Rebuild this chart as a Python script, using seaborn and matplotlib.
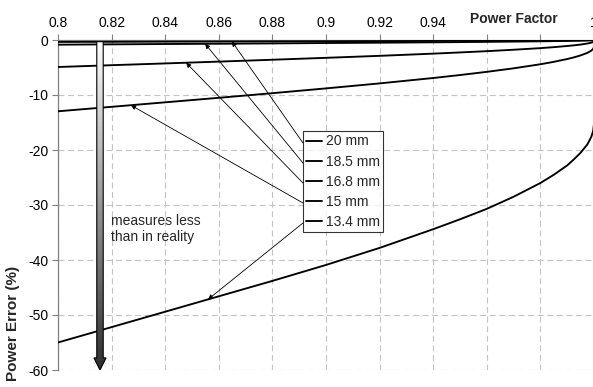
import numpy as np
import pandas as pd
import matplotlib
matplotlib.use("Agg")
import matplotlib.pyplot as plt
import seaborn as sns
from matplotlib.patches import FancyArrow
from matplotlib.colors import LinearSegmentedColormap

# Power error (%) versus power factor for several conductor sizes
power_factor = [0.80, 0.82, 0.84, 0.86, 0.88, 0.90, 0.92, 0.94, 0.95, 0.96,
                0.97, 0.98, 0.985, 0.99, 0.9925, 0.995, 0.9975, 0.999, 0.9997, 1.0]
err_20mm = [-0.35, -0.33, -0.30, -0.28, -0.25, -0.23, -0.20, -0.17, -0.15, -0.14,
            -0.12, -0.10, -0.08, -0.07, -0.06, -0.05, -0.03, -0.02, -0.01, 0.0]
err_18_5mm = [-0.85, -0.79, -0.73, -0.68, -0.62, -0.55, -0.49, -0.42, -0.38, -0.34,
              -0.29, -0.24, -0.20, -0.17, -0.15, -0.12, -0.09, -0.06, -0.03, -0.01]
err_16_8mm = [-4.91, -4.58, -4.26, -3.93, -3.59, -3.24, -2.88, -2.48, -2.26, -2.03,
              -1.77, -1.48, -1.30, -1.09, -0.97, -0.83, -0.64, -0.48, -0.35, -0.20]
err_15mm = [-12.96, -12.15, -11.33, -10.51, -9.67, -8.80, -7.89, -6.91, -6.37, -5.79,
            -5.15, -4.41, -3.97, -3.46, -3.16, -2.80, -2.34, -1.93, -1.61, -1.23]
err_13_4mm = [-55.0, -52.2, -49.4, -46.6, -43.8, -40.9, -37.8, -34.4, -32.6, -30.7,
              -28.5, -26.0, -24.5, -22.8, -21.7, -20.5, -19.0, -17.6, -16.5, -15.2]

sizes = ["20 mm", "18.5 mm", "16.8 mm", "15 mm", "13.4 mm"]
series = [err_20mm, err_18_5mm, err_16_8mm, err_15mm, err_13_4mm]

# where each legend pointer lands on its curve (power factor)
pointer_pf = [0.8649, 0.8549, 0.8478, 0.8272, 0.8560]

x_ticks = [0.80, 0.82, 0.84, 0.86, 0.88, 0.90, 0.92, 0.94, 0.96, 0.98, 1.0]
x_tick_labels = ["0.8", "0.82", "0.84", "0.86", "0.88", "0.9", "0.92", "0.94", "", "", "1"]
y_ticks = [0, -10, -20, -30, -40, -50, -60]
y_tick_labels = ["0", "-10", "-20", "-30", "-40", "-50", "-60"]

df = pd.DataFrame({
    "Power Factor": np.tile(power_factor, len(sizes)),
    "Power Error (%)": np.concatenate(series),
    "Size": np.repeat(sizes, len(power_factor)),
})

sns.set_theme(style="white")
plt.rcParams["font.family"] = ["Liberation Sans", "DejaVu Sans"]
plt.rcParams["lines.scale_dashes"] = False

W, H = 593, 387
fig = plt.figure(figsize=(W / 100, H / 100), dpi=100)
ax = fig.add_axes([58 / W, 1 - 370 / H, 536 / W, 330 / H])

sns.lineplot(data=df, x="Power Factor", y="Power Error (%)", hue="Size",
             hue_order=sizes, palette=["black"] * len(sizes), linewidth=1.35,
             legend=False, ax=ax, zorder=3)

ax.set_xlim(0.8, 1.0)
ax.set_ylim(-60, 0)
ax.xaxis.tick_top()
ax.set_xticks(x_ticks)
ax.set_xticklabels(x_tick_labels)
ax.set_yticks(y_ticks)
ax.set_yticklabels(y_tick_labels)
ax.set_xlabel("")
ax.set_ylabel("")
ax.tick_params(axis="both", direction="out", length=4, width=0.8, color="#808080",
               labelsize=10, labelcolor="black", pad=3)
ax.tick_params(axis="x", top=True, bottom=False)
ax.tick_params(axis="y", left=True)

for side in ["right", "bottom"]:
    ax.spines[side].set_visible(False)
for side in ["left", "top"]:
    ax.spines[side].set_color("#808080")
    ax.spines[side].set_linewidth(0.9)

ax.grid(True, color="#c4c4c4", linewidth=0.8, linestyle=(0, (4.3, 2.6)))
ax.set_axisbelow(True)

# axis titles
fig.text(514 / W, 1 - 19 / H, "Power Factor", ha="center", va="center",
         fontsize=10, fontweight="bold")
fig.text(13 / W, 1 - 323 / H, "Power Error (%)", ha="center", va="center",
         rotation=90, fontsize=11, fontweight="bold")

# gradient arrow: measured values fall below the real ones
x_arrow = 0.81567
arrow = FancyArrow(x_arrow, -0.3, 0, -59.7, width=0.0024, head_width=0.0045,
                   head_length=2.2, length_includes_head=True,
                   facecolor="none", edgecolor="black", linewidth=0.8, zorder=6)
ax.add_patch(arrow)
grad_cmap = LinearSegmentedColormap.from_list("fade", ["#ffffff", "#2e2e2e"])
grad = np.linspace(0, 1, 256).reshape(-1, 1)
img = ax.imshow(grad, extent=[x_arrow - 0.003, x_arrow + 0.003, -60, 0],
                aspect="auto", cmap=grad_cmap, origin="upper", zorder=5,
                interpolation="bilinear")
img.set_clip_path(arrow)
ax.set_xlim(0.8, 1.0)
ax.set_ylim(-60, 0)

ax.text(0.8198, -34.3, "measures less\nthan in reality", fontsize=10,
        ha="left", va="center", linespacing=1.2, zorder=7)

# legend box
handles = ax.get_lines()[:len(sizes)]
leg = ax.legend(handles, sizes, loc="upper left",
                bbox_to_anchor=(303 / W, 1 - 131 / H), bbox_transform=fig.transFigure,
                borderaxespad=0, frameon=True, fancybox=False, fontsize=10,
                handlelength=1.15, handletextpad=0.22, labelspacing=0.44,
                borderpad=0.25)
leg.get_frame().set_edgecolor("black")
leg.get_frame().set_linewidth(0.8)
leg.get_frame().set_facecolor("white")
leg.set_zorder(8)

# pointers from each legend entry to its curve
for i, (pf, vals) in enumerate(zip(pointer_pf, series)):
    y_on_curve = float(np.interp(pf, power_factor, vals))
    start = (303, H - (143 + 20 * i))
    ax.annotate("", xy=(pf, y_on_curve), xycoords="data",
                xytext=start, textcoords="figure pixels",
                arrowprops=dict(arrowstyle="-|>", color="black", lw=0.6,
                                mutation_scale=7, shrinkA=0, shrinkB=0),
                zorder=4)

fig.savefig("out.png", dpi=100)
